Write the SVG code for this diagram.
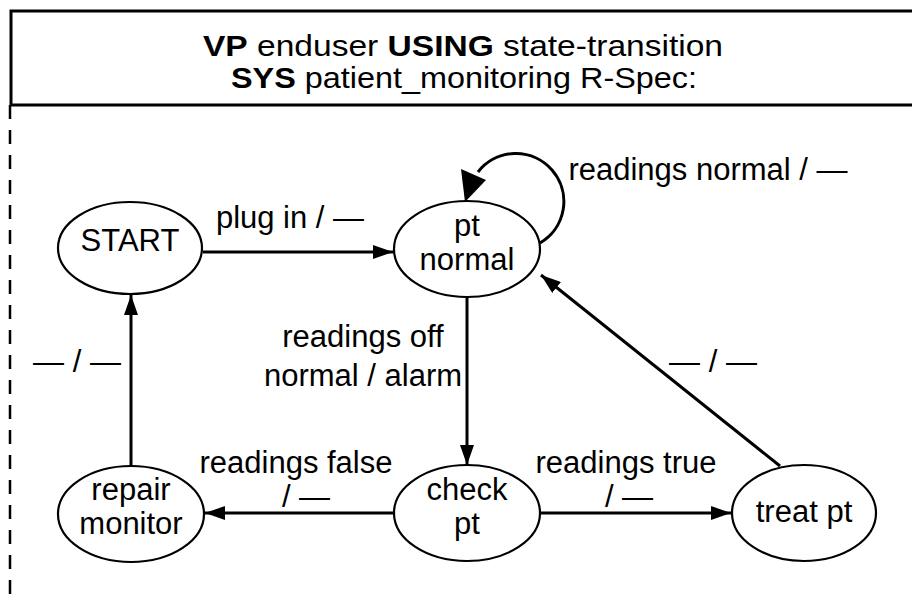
<svg xmlns="http://www.w3.org/2000/svg" width="912" height="607" viewBox="0 0 912 607">
<style>
text{font-family:"Liberation Sans",Arial,sans-serif;fill:#000}
.lbl{font-size:31px}
.hdr{font-size:30px}
.b{font-weight:bold}
.node ellipse{fill:#fff;stroke:#000;stroke-width:2.2}
.edge{stroke:#000;stroke-width:3;fill:none}
</style>
<defs>
<marker id="ah" viewBox="0 0 20 14" refX="20" refY="7" markerWidth="20" markerHeight="14" markerUnits="userSpaceOnUse" orient="auto">
<path d="M0,0 L20,7 L0,14 Z" fill="#000"/>
</marker>
</defs>
<rect width="912" height="607" fill="#fff"/>
<g id="frame">
<path d="M920,11 H11 V105 H920" fill="none" stroke="#000" stroke-width="3"/>
<path d="M10,105 V600" fill="none" stroke="#000" stroke-width="2.5" stroke-dasharray="14 11"/>
<text class="hdr" x="463" y="56" text-anchor="middle" textLength="520" lengthAdjust="spacingAndGlyphs"><tspan class="b">VP</tspan> enduser  <tspan class="b">USING</tspan> state-transition</text>
<text class="hdr" x="464" y="88" text-anchor="middle" textLength="466" lengthAdjust="spacingAndGlyphs"><tspan class="b">SYS</tspan>  patient_monitoring R-Spec:</text>
</g>
<g id="connectors">
<line class="edge" x1="203" y1="252" x2="393" y2="252" marker-end="url(#ah)"/>
<path class="edge" d="M540,243 A48,48 0 1 0 478,172" stroke-width="2.5"/>
<path d="M465,202 L461,169 L486,180 Z" fill="#000"/>
<line class="edge" x1="467" y1="297" x2="467" y2="465" marker-end="url(#ah)"/>
<line class="edge" x1="394" y1="513" x2="205" y2="513" marker-end="url(#ah)"/>
<line class="edge" x1="540" y1="513" x2="731" y2="513" marker-end="url(#ah)"/>
<line class="edge" x1="780" y1="466" x2="541" y2="275" marker-end="url(#ah)"/>
<line class="edge" x1="131" y1="466" x2="131" y2="295" marker-end="url(#ah)"/>
<text class="lbl" x="290" y="228" text-anchor="middle">plug in / —</text>
<text class="lbl" x="708" y="180" text-anchor="middle">readings normal / —</text>
<text class="lbl" x="363" y="347" text-anchor="middle">readings off</text>
<text class="lbl" x="363" y="386" text-anchor="middle">normal / alarm</text>
<text class="lbl" x="713" y="372" text-anchor="middle">— / —</text>
<text class="lbl" x="77" y="372" text-anchor="middle">— / —</text>
<text class="lbl" x="296" y="473" text-anchor="middle">readings false</text>
<text class="lbl" x="306" y="507" text-anchor="middle">/ —</text>
<text class="lbl" x="626" y="473" text-anchor="middle">readings true</text>
<text class="lbl" x="629" y="507" text-anchor="middle">/ —</text>
</g>
<g id="START" class="node">
<ellipse cx="130" cy="248" rx="72" ry="46"/>
<text class="lbl" x="130" y="251" text-anchor="middle">START</text>
</g>
<g id="pt_normal" class="node">
<ellipse cx="467" cy="249" rx="73" ry="48"/>
<text class="lbl" x="467" y="236" text-anchor="middle">pt</text>
<text class="lbl" x="467" y="270" text-anchor="middle">normal</text>
</g>
<g id="check_pt" class="node">
<ellipse cx="467" cy="513" rx="73" ry="48"/>
<text class="lbl" x="467" y="500" text-anchor="middle">check</text>
<text class="lbl" x="467" y="534" text-anchor="middle">pt</text>
</g>
<g id="repair_monitor" class="node">
<ellipse cx="131" cy="514" rx="73" ry="48"/>
<text class="lbl" x="131" y="500" text-anchor="middle">repair</text>
<text class="lbl" x="131" y="534" text-anchor="middle">monitor</text>
</g>
<g id="treat_pt" class="node">
<ellipse cx="804" cy="513" rx="72" ry="48"/>
<text class="lbl" x="804" y="522" text-anchor="middle">treat pt</text>
</g>
</svg>
